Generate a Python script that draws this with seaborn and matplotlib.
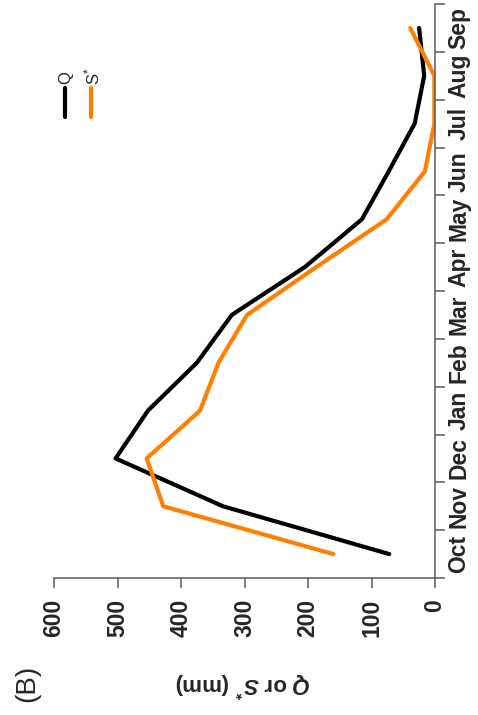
import matplotlib
matplotlib.use("Agg")
import matplotlib.pyplot as plt
import numpy as np
import pandas as pd
import seaborn as sns

# Monthly runoff Q and S* (mm) over the water year
months = ["Oct", "Nov", "Dec", "Jan", "Feb", "Mar", "Apr", "May", "Jun", "Jul", "Aug", "Sep"]
q_mm = [72, 334, 503, 452, 375, 320, 205, 115, 73, 32, 17, 25]
s_star_mm = [160, 428, 454, 370, 341, 296, 187, 76, 16, 1, 1, 39]
value_ticks = [0, 100, 200, 300, 400, 500, 600]

sns.set_theme(style="white")
plt.rcParams["font.family"] = ["Liberation Sans", "DejaVu Sans"]
plt.rcParams["mathtext.fontset"] = "custom"
plt.rcParams["mathtext.it"] = "Liberation Sans:italic:bold"
plt.rcParams["mathtext.rm"] = "Liberation Sans:bold"

pos = np.arange(len(months))
df = pd.DataFrame({"pos": np.concatenate([pos, pos]),
                   "mm": q_mm + s_star_mm,
                   "series": ["Q"] * len(months) + ["S*"] * len(months)})

W, H = 478, 715
fig = plt.figure(figsize=(W / 100, H / 100), dpi=100)
left, right, top, bottom = 54, 435, 4, 578
ax = fig.add_axes([left / W, 1 - bottom / H, (right - left) / W, (bottom - top) / H])

axis_color = "#5a5a5a"
palette = {"Q": "black", "S*": "#FF8000"}
sns.lineplot(data=df, x="mm", y="pos", hue="series", palette=palette,
             orient="y", linewidth=3.0, ax=ax, legend=False)

# value axis: 0 on the right, 600 on the left
ax.set_xlim(600, 0)
ax.set_xticks(value_ticks)
ax.set_xticklabels([str(v) for v in value_ticks], rotation=90,
                   fontsize=16.5, fontweight="bold", va="top", ha="center")
ax.tick_params(axis="x", direction="out", length=7, width=1.1,
               color=axis_color, pad=8, bottom=True)

# month axis on the right side
ax.set_ylim(-0.5, len(months) - 0.5)
ax.yaxis.tick_right()
ax.set_yticks(pos)
ax.set_yticklabels(months, rotation=90, fontsize=16.5, fontweight="bold", va="center")
ax.set_yticks(np.arange(-0.5, len(months)), minor=True)
ax.tick_params(axis="y", which="major", length=0, pad=9, right=True, left=False)
ax.tick_params(axis="y", which="minor", direction="out", length=7, width=1.1,
               color=axis_color, right=True, left=False)
ax.set_ylabel("")

for side in ["left", "top"]:
    ax.spines[side].set_visible(False)
for side in ["bottom", "right"]:
    ax.spines[side].set_visible(True)
    ax.spines[side].set_color(axis_color)
    ax.spines[side].set_linewidth(1.1)

ax.set_xlabel(r"$Q$ or $S^{*}$ (mm)", fontsize=16, fontweight="bold", rotation=180,
              va="center", ha="center")
ax.xaxis.set_label_coords((243 - left) / (right - left), (bottom - 684) / (bottom - top))

# legend drawn as short vertical strokes with labels above them
def ax_xy(px, py):
    return (px - left) / (right - left), (bottom - py) / (bottom - top)

for px, name, label in [(65, "Q", r"$\mathregular{Q}$"), (91, "S*", r"$\mathregular{S^{*}}$")]:
    x0, y0 = ax_xy(px, 88)
    _, y1 = ax_xy(px, 117)
    ax.plot([x0, x0], [y0, y1], transform=ax.transAxes, color=palette[name],
            lw=3.0, solid_capstyle="round", clip_on=False)
    tx, ty = ax_xy(px + 1, 85)
    ax.text(tx, ty, label, transform=ax.transAxes, rotation=90, fontsize=12,
            ha="center", va="bottom")

fig.text(27 / W, 1 - 683 / H, "(B)", rotation=90, fontsize=20, ha="center", va="center")

fig.savefig("out.png", dpi=100, facecolor="white")
